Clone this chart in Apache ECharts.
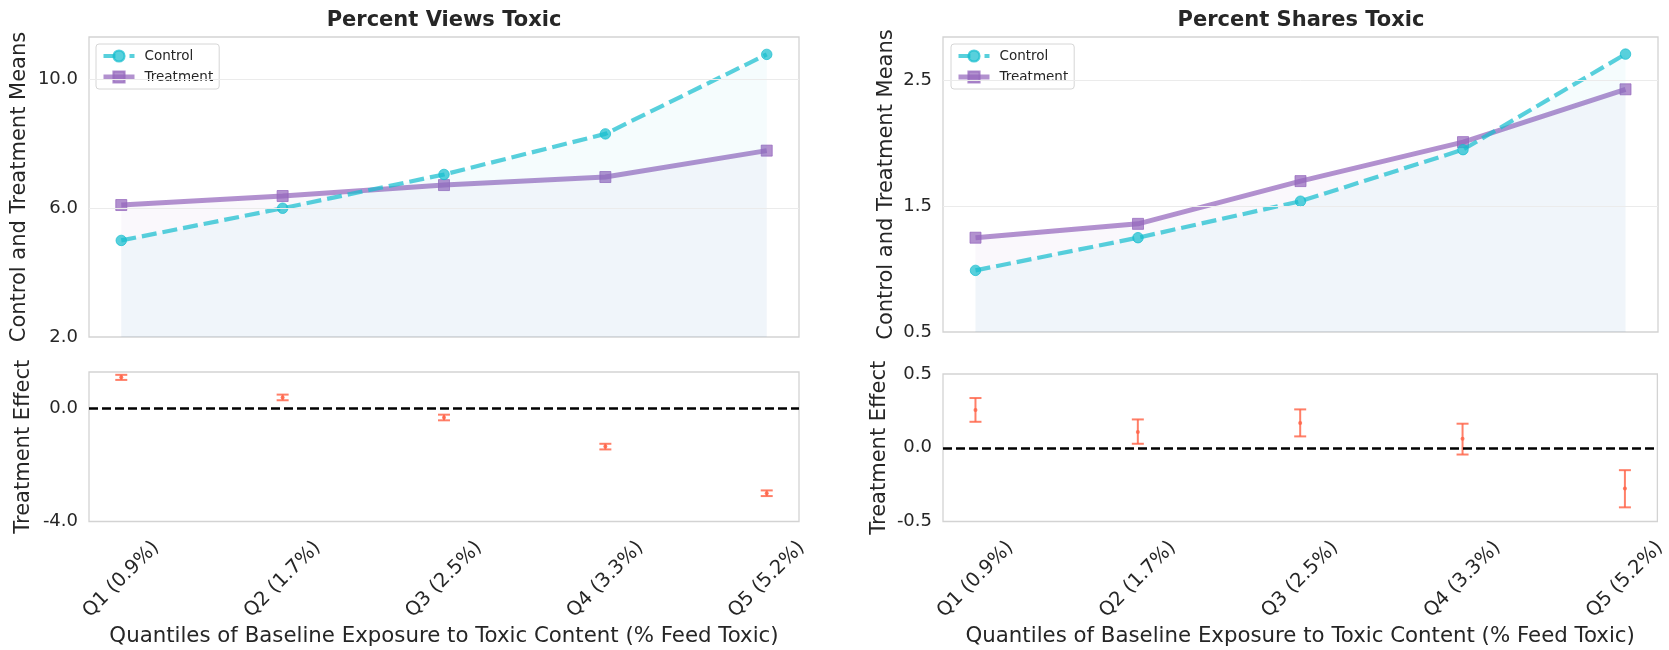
<!DOCTYPE html>
<html>
<head>
<meta charset="utf-8">
<script src="https://cdn.jsdelivr.net/npm/echarts@6/dist/echarts.min.js"></script>
<style>
  html, body { margin: 0; padding: 0; background: #ffffff; }
  #chart { width: 1669px; height: 650px; }
</style>
</head>
<body>
<div id="chart"></div>
<script>
// Quantile groups of baseline exposure
const categories = ['Q1 (0.9%)', 'Q2 (1.7%)', 'Q3 (2.5%)', 'Q4 (3.3%)', 'Q5 (5.2%)'];

// Percent Views Toxic
const viewsControl = [5.0, 6.0, 7.05, 8.31, 10.78];
const viewsTreatment = [6.10, 6.38, 6.72, 6.97, 7.79];
const viewsEffect = [1.10, 0.39, -0.32, -1.35, -3.00];
const viewsEffectErr = [0.09, 0.10, 0.10, 0.10, 0.10];

// Percent Shares Toxic
const sharesControl = [0.99, 1.25, 1.54, 1.95, 2.71];
const sharesTreatment = [1.25, 1.36, 1.70, 2.01, 2.43];
const sharesEffect = [0.256, 0.106, 0.167, 0.061, -0.277];
const sharesEffectLow = [0.176, 0.027, 0.077, -0.046, -0.404];
const sharesEffectHigh = [0.337, 0.192, 0.260, 0.163, -0.152];

// Axis ranges and tick labels
const viewsMeanTicks = [2, 6, 10];
const viewsMeanRange = [2, 11.32];
const viewsEffectTicks = [-4, 0];
const viewsEffectRange = [-4, 1.29];
const sharesMeanTicks = [0.5, 1.5, 2.5];
const sharesMeanRange = [0.5, 2.846];
const sharesEffectTicks = [-0.5, 0, 0.5];
const sharesEffectRange = [-0.5, 0.5];

const FONT = 'DejaVu Sans';
const TEXT = '#262626';
const CYAN = 'rgba(23,190,207,0.72)';
const PURPLE = 'rgba(148,103,189,0.72)';
const ERR = 'rgba(255,99,71,0.82)';

const idx = categories.map((_, i) => i);
const pairs = vals => vals.map((v, i) => [i, v]);

function grid(left, right, top, height) {
  return { left, right, top, height, show: true, borderColor: '#d3d3d3', borderWidth: 1.3, backgroundColor: 'transparent' };
}

function xAxis(gridIndex, withLabels) {
  return {
    type: 'value', gridIndex, min: -0.2, max: 4.2,
    axisLine: { show: false }, axisTick: { show: false }, splitLine: { show: false },
    axisLabel: {
      show: withLabels,
      customValues: idx,
      formatter: v => categories[Math.round(v)],
      rotate: 45, align: 'center', verticalAlign: 'middle',
      margin: 58, fontSize: 19.5, color: TEXT, fontFamily: FONT
    },
    name: withLabels ? 'Quantiles of Baseline Exposure to Toxic Content (% Feed Toxic)' : '',
    nameLocation: 'middle', nameGap: 104,
    nameTextStyle: { fontSize: 21.3, color: TEXT, fontFamily: FONT }
  };
}

function yAxis(gridIndex, range, ticks, name, nameGap) {
  return {
    type: 'value', gridIndex, min: range[0], max: range[1],
    axisLine: { show: false }, axisTick: { show: false }, splitLine: { show: false },
    axisLabel: {
      customValues: ticks,
      formatter: v => v.toFixed(1),
      margin: 11, fontSize: 18, color: TEXT, fontFamily: FONT
    },
    name, nameLocation: 'middle', nameRotate: 90, nameGap,
    nameTextStyle: { fontSize: 21, color: TEXT, fontFamily: FONT }
  };
}

function gridLines(ticks, range) {
  return {
    silent: true, symbol: 'none', label: { show: false },
    lineStyle: { color: '#ebebeb', width: 1, type: 'solid' },
    emphasis: { disabled: true },
    data: ticks.filter(t => t > range[0] && t < range[1]).map(t => ({ yAxis: t }))
  };
}

function meanSeries(gi, control, treatment, ticks, range) {
  return [
    {
      name: 'Control', type: 'line', xAxisIndex: gi, yAxisIndex: gi,
      data: pairs(control), symbol: 'circle', symbolSize: 10.5,
      itemStyle: { color: CYAN, borderColor: CYAN, borderWidth: 1 },
      lineStyle: { color: CYAN, width: 4.2, type: [15, 6] },
      areaStyle: { color: 'rgba(23,190,207,0.06)', origin: 'start' },
      markLine: gridLines(ticks, range),
      z: 3
    },
    {
      name: 'Treatment', type: 'line', xAxisIndex: gi, yAxisIndex: gi,
      data: pairs(treatment), symbol: 'rect', symbolSize: 11,
      itemStyle: { color: PURPLE, borderColor: PURPLE, borderWidth: 1 },
      lineStyle: { color: PURPLE, width: 5, type: 'solid' },
      areaStyle: { color: 'rgba(148,103,189,0.065)', origin: 'start' },
      z: 2
    }
  ];
}

function effectSeries(gi, mid, low, high) {
  return {
    name: 'Treatment Effect', type: 'custom', xAxisIndex: gi, yAxisIndex: gi,
    data: mid.map((m, i) => [i, m, low[i], high[i]]),
    renderItem(params, api) {
      const x = api.value(0);
      const pM = api.coord([x, api.value(1)]);
      const pLo = api.coord([x, api.value(2)]);
      const pHi = api.coord([x, api.value(3)]);
      const hw = 6;
      const st = { stroke: ERR, lineWidth: 2 };
      return {
        type: 'group',
        children: [
          { type: 'line', shape: { x1: pLo[0], y1: pLo[1], x2: pHi[0], y2: pHi[1] }, style: st },
          { type: 'line', shape: { x1: pLo[0] - hw, y1: pLo[1], x2: pLo[0] + hw, y2: pLo[1] }, style: st },
          { type: 'line', shape: { x1: pHi[0] - hw, y1: pHi[1], x2: pHi[0] + hw, y2: pHi[1] }, style: st },
          { type: 'circle', shape: { cx: pM[0], cy: pM[1], r: 2 }, style: { fill: ERR } }
        ]
      };
    },
    markLine: {
      silent: true, symbol: 'none', label: { show: false },
      lineStyle: { color: '#000000', width: 2.5, type: [9, 4] },
      emphasis: { disabled: true },
      data: [{ yAxis: 0 }]
    },
    z: 4
  };
}

function legend(left) {
  return {
    left, top: 44, orient: 'vertical',
    data: [
      { name: 'Control', lineStyle: { width: 4.2, type: [12, 14] } },
      { name: 'Treatment', lineStyle: { width: 5, type: 'solid' } }
    ],
    itemWidth: 31, itemHeight: 14, itemGap: 7,
    padding: [5, 6, 5, 5],
    borderColor: '#d6d6d6', borderWidth: 1, borderRadius: 3,
    backgroundColor: 'rgba(255,255,255,0.85)',
    textStyle: { fontSize: 13.5, color: TEXT, fontFamily: FONT, padding: [0, 0, 0, 5] }
  };
}

const viewsLow = viewsEffect.map((v, i) => v - viewsEffectErr[i]);
const viewsHigh = viewsEffect.map((v, i) => v + viewsEffectErr[i]);

const option = {
  animation: false,
  backgroundColor: '#ffffff',
  textStyle: { fontFamily: FONT },
  title: [
    { text: 'Percent Views Toxic', left: 444, top: 10, textAlign: 'center', padding: 0,
      textStyle: { fontSize: 21, fontWeight: 'bold', color: TEXT, fontFamily: FONT } },
    { text: 'Percent Shares Toxic', left: 1301, top: 10, textAlign: 'center', padding: 0,
      textStyle: { fontSize: 21, fontWeight: 'bold', color: TEXT, fontFamily: FONT } }
  ],
  legend: [legend(96), legend(951)],
  grid: [
    grid(89, 870, 37, 300),
    grid(89, 870, 372, 149.5),
    grid(943, 11, 37, 295),
    grid(943, 11, 374, 147.5)
  ],
  xAxis: [xAxis(0, false), xAxis(1, true), xAxis(2, false), xAxis(3, true)],
  yAxis: [
    yAxis(0, viewsMeanRange, viewsMeanTicks, 'Control and Treatment Means', 59),
    yAxis(1, viewsEffectRange, viewsEffectTicks, 'Treatment Effect', 55),
    yAxis(2, sharesMeanRange, sharesMeanTicks, 'Control and Treatment Means', 46),
    yAxis(3, sharesEffectRange, sharesEffectTicks, 'Treatment Effect', 53)
  ],
  series: [
    ...meanSeries(0, viewsControl, viewsTreatment, viewsMeanTicks, viewsMeanRange),
    effectSeries(1, viewsEffect, viewsLow, viewsHigh),
    ...meanSeries(2, sharesControl, sharesTreatment, sharesMeanTicks, sharesMeanRange),
    effectSeries(3, sharesEffect, sharesEffectLow, sharesEffectHigh)
  ]
};

const chart = echarts.init(document.getElementById('chart'), null, { renderer: 'canvas' });
chart.setOption(option);
</script>
</body>
</html>
